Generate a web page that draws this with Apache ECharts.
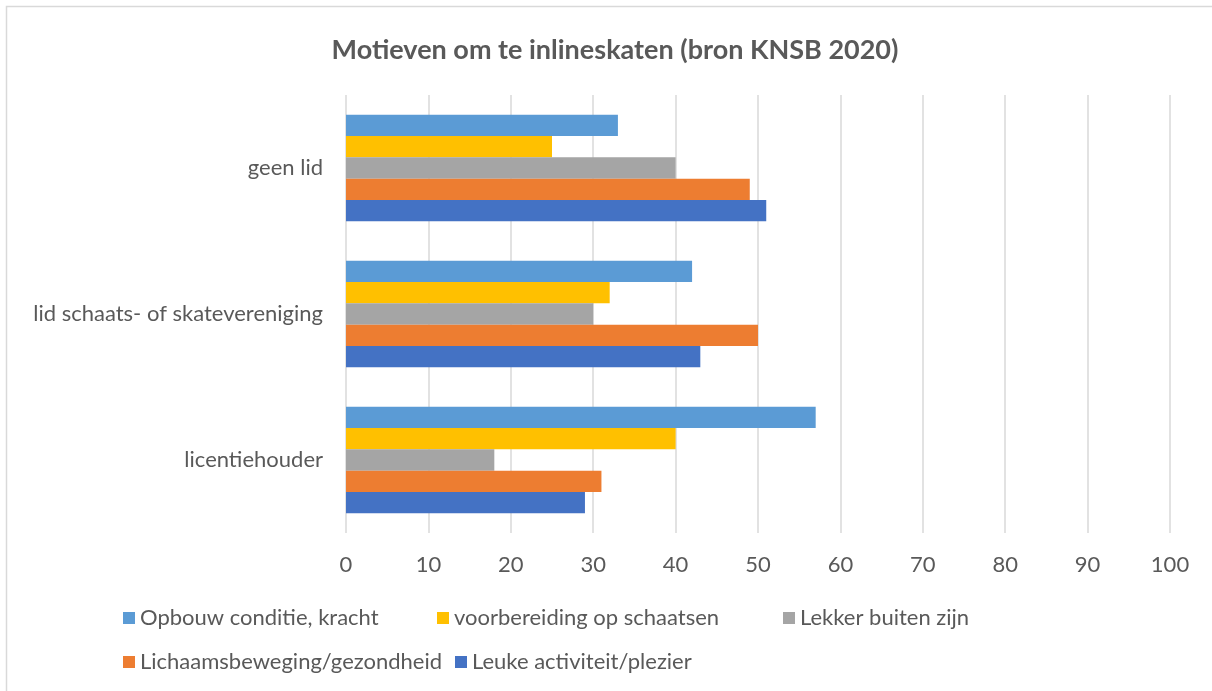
<!DOCTYPE html>
<html>
<head>
<meta charset="utf-8">
<script src="https://cdn.jsdelivr.net/npm/echarts@6/dist/echarts.min.js"></script>
<style>html,body{margin:0;padding:0;background:#fff;}#c{width:1212px;height:691px;}</style>
</head>
<body>
<div id="c"></div>
<script>
const categories = ['licentiehouder', 'lid schaats- of skatevereniging', 'geen lid'];
const seriesNames = ['Opbouw conditie, kracht', 'voorbereiding op schaatsen', 'Lekker buiten zijn', 'Lichaamsbeweging/gezondheid', 'Leuke activiteit/plezier'];
const opbouw = [57, 42, 33];
const voorbereiding = [40, 32, 25];
const lekkerBuiten = [18, 30, 40];
const lichaamsbeweging = [31, 50, 49];
const leukeActiviteit = [29, 43, 51];
const xTicks = [0, 10, 20, 30, 40, 50, 60, 70, 80, 90, 100];

const values = [opbouw, voorbereiding, lekkerBuiten, lichaamsbeweging, leukeActiviteit];
const colors = ['#5B9BD5', '#FFC000', '#A5A5A5', '#ED7D31', '#4472C4'];
const FONT = 'Lato';
const TXT = '#595959';

const legendPos = [[118, 602], [432, 602], [778, 602], [118, 646], [450, 646]];

const chart = echarts.init(document.getElementById('c'), null, {renderer: 'canvas'});
chart.setOption({
  animation: false,
  backgroundColor: '#fff',
  textStyle: {fontFamily: FONT},
  title: {
    text: 'Motieven om te inlineskaten (bron KNSB 2020)',
    left: 610, top: 32, textAlign: 'center',
    textStyle: {fontFamily: FONT, fontWeight: 'bold', fontSize: 27, color: TXT}
  },
  graphic: [{
    type: 'polyline', silent: true,
    shape: {points: [[6.5, 691], [6.5, 6.5], [1212, 6.5]]},
    style: {stroke: '#D9D9D9', lineWidth: 1.5, fill: null}
  }],
  legend: seriesNames.map((n, i) => ({
    data: [n], left: legendPos[i][0], top: legendPos[i][1],
    itemWidth: 12, itemHeight: 12, icon: 'rect',
    textStyle: {fontFamily: FONT, fontSize: 22, color: TXT}
  })),
  grid: {left: 346, right: 42, top: 95, bottom: 158, containLabel: false},
  xAxis: {
    type: 'value', min: xTicks[0], max: xTicks[xTicks.length - 1], interval: 10,
    axisLine: {show: false}, axisTick: {show: false},
    splitLine: {show: true, lineStyle: {color: '#D9D9D9', width: 1.5}},
    axisLabel: {fontFamily: FONT, fontSize: 22, color: TXT, margin: 21}
  },
  yAxis: {
    type: 'category', data: categories,
    axisLine: {show: false}, axisTick: {show: false},
    axisLabel: {fontFamily: FONT, fontSize: 22, color: TXT, margin: 23}
  },
  series: seriesNames.map((n, i) => ({
    name: n, type: 'bar', data: values[i],
    barGap: '0%', barCategoryGap: '27%',
    itemStyle: {color: colors[i]}
  }))
});
</script>
</body>
</html>
